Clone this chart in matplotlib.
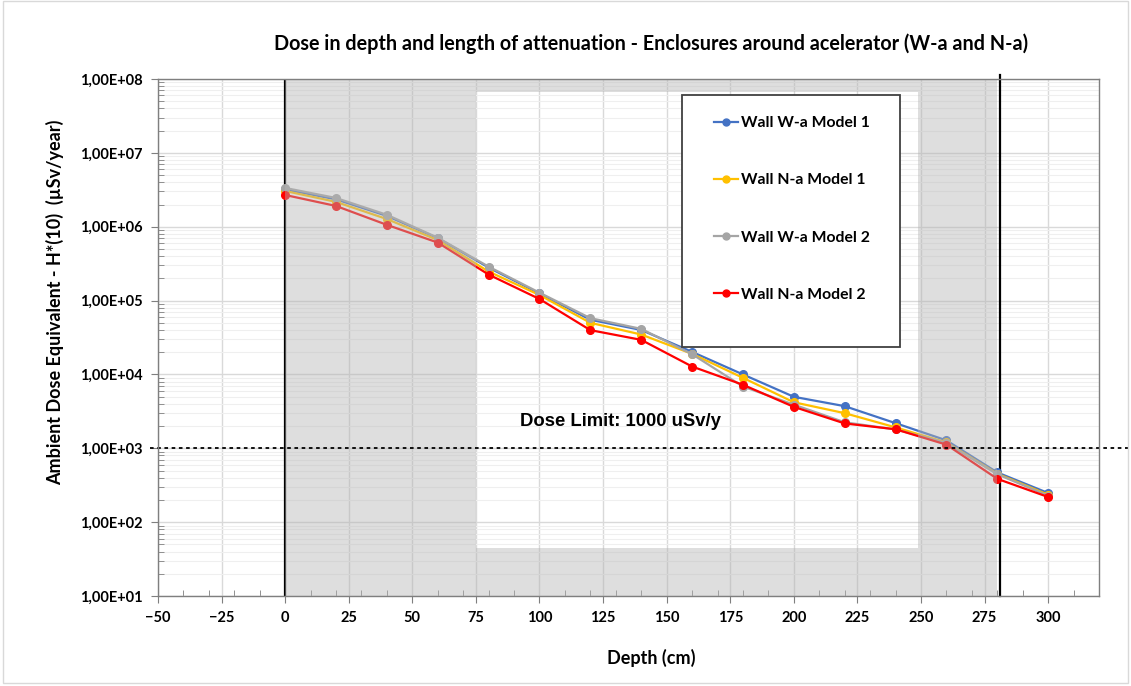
"""Dose in depth: ambient dose equivalent vs depth for enclosure walls."""

import math

import matplotlib

matplotlib.use("Agg")
import matplotlib.pyplot as plt
from matplotlib.patches import Rectangle
from matplotlib.ticker import FixedLocator, FuncFormatter, LogLocator, MultipleLocator

# --- data ---
depth = [0, 20, 40, 60, 80, 100, 120, 140, 160, 180, 200, 220, 240, 260, 280, 300]

wall_wa_model1 = [3.2e6, 2.35e6, 1.40e6, 7.0e5, 2.80e5, 1.25e5, 5.5e4, 4.0e4,
                  2.02e4, 1.0e4, 4.98e3, 3.72e3, 2.19e3, 1.28e3, 471, 248]
wall_na_model1 = [3.05e6, 2.17e6, 1.27e6, 6.6e5, 2.47e5, 1.19e5, 5.0e4, 3.47e4,
                  1.90e4, 9.0e3, 4.2e3, 2.99e3, 1.92e3, 1.20e3, 452, 235]
wall_wa_model2 = [3.35e6, 2.45e6, 1.45e6, 7.1e5, 2.88e5, 1.28e5, 5.78e4, 4.14e4,
                  1.88e4, 6.86e3, 3.9e3, 2.25e3, 1.80e3, 1.18e3, 445, 228]
wall_na_model2 = [2.69e6, 1.91e6, 1.06e6, 6.1e5, 2.25e5, 1.05e5, 3.98e4, 2.94e4,
                  1.28e4, 7.25e3, 3.64e3, 2.17e3, 1.81e3, 1.12e3, 386, 219]

series_labels = ["Wall W-a Model 1", "Wall N-a Model 1", "Wall W-a Model 2", "Wall N-a Model 2"]
series_colors = ["#4472C4", "#FFC000", "#A5A5A5", "#FF0000"]

dose_limit = 1000
wall_start, wall_end = 0, 281
inner_x = (75, 249)
inner_y = (45, 6.7e7)

# --- figure ---
fig = plt.figure(figsize=(11.31, 6.86), dpi=100)
ax = fig.add_axes([0.1397, 0.1312, 0.832, 0.7536])
ax.set_yscale("log")
ax.set_xlim(-50, 320)
ax.set_ylim(10, 1e8)

# grid
ax.xaxis.set_major_locator(MultipleLocator(25))
ax.xaxis.set_minor_locator(MultipleLocator(10))
ax.yaxis.set_major_locator(FixedLocator([10.0 ** e for e in range(1, 9)]))
ax.yaxis.set_minor_locator(LogLocator(base=10, subs=range(2, 10), numticks=20))
ax.grid(True, which="major", axis="both", color="#D9D9D9", linewidth=1, zorder=0)
ax.grid(True, which="minor", axis="y", color="#EFEFEF", linewidth=0.8, zorder=0)
ax.set_axisbelow(True)

# wall boundaries
ax.axvline(wall_start, color="black", linewidth=1.6, zorder=1)
ax.axvline(wall_end, ymax=1.008, color="black", linewidth=1.6, zorder=1, clip_on=False)

# data
for values, label, color in zip(
    [wall_wa_model1, wall_na_model1, wall_wa_model2, wall_na_model2],
    series_labels,
    series_colors,
):
    ax.plot(depth, values, color=color, linewidth=1.6, marker="o", markersize=5.5,
            label=label, zorder=3)

# gray frame (wall cross-section) drawn semi-transparent over the curves
shade = dict(color="#B4B4B4", alpha=0.44, linewidth=0, zorder=4)
ax.axvspan(wall_start, inner_x[0], **shade)
ax.axvspan(inner_x[1], wall_end - 1, **shade)
ax.fill_between(inner_x, inner_y[1], 1e8, **shade)
ax.fill_between(inner_x, 10, inner_y[0], **shade)

# dose limit
ax.plot([-0.009, 1.04], [dose_limit, dose_limit], transform=ax.get_yaxis_transform(),
        color="black", linewidth=1.3, linestyle=(0, (2, 2)), clip_on=False, zorder=5)
ax.text(132, 2290, "Dose Limit: 1000 uSv/y", fontsize=13.3, fontweight="bold",
        family="Liberation Sans", ha="center", va="center", zorder=6)

# spines and ticks
for spine in ax.spines.values():
    spine.set_color("#7F7F7F")
    spine.set_linewidth(1.0)
    spine.set_zorder(10)

ax.yaxis.set_major_formatter(FuncFormatter(lambda v, _: f"1,00E+{round(math.log10(v)):02d}"))
ax.tick_params(axis="both", which="major", direction="out", length=5, color="#7F7F7F",
               labelsize=10.5, pad=6)
ax.tick_params(axis="both", which="minor", direction="in", length=4, color="#7F7F7F")
for lbl in ax.get_xticklabels() + ax.get_yticklabels():
    lbl.set_family("Lato")
    lbl.set_fontweight("bold")

# legend with its own box
ax.add_patch(Rectangle((0.5569, 0.4816), 0.2317, 0.4874, transform=ax.transAxes,
                       facecolor="white", edgecolor="#404040", linewidth=1.3, zorder=7))
leg = ax.legend(loc="center", bbox_to_anchor=(0.6735, 0.7485), frameon=False,
                labelspacing=2.75, handlelength=1.55, handletextpad=0.15,
                prop={"family": "Lato", "weight": "bold", "size": 11.3})
leg.set_zorder(8)
for h in leg.legend_handles:
    h.set_markersize(5)

# titles
fig.text(0.5756, 0.936,
         "Dose in depth and length of attenuation - Enclosures around acelerator (W-a and N-a)",
         ha="center", va="center", fontsize=14.2, fontweight="bold", family="Lato")
fig.text(0.5756, 0.0408, "Depth (cm)", ha="center", va="center", fontsize=13,
         fontweight="bold", family="Lato")
fig.text(0.0486, 0.56, "Ambient Dose Equivalent - H*(10)  (µSv/year)", rotation=90,
         ha="center", va="center", fontsize=13, fontweight="bold", family="Lato")

# light outer border
fig.patches.append(Rectangle((0.003, 0.004), 0.994, 0.994, transform=fig.transFigure,
                             facecolor="none", edgecolor="#D9D9D9", linewidth=1))

fig.savefig("out.png", dpi=100)
